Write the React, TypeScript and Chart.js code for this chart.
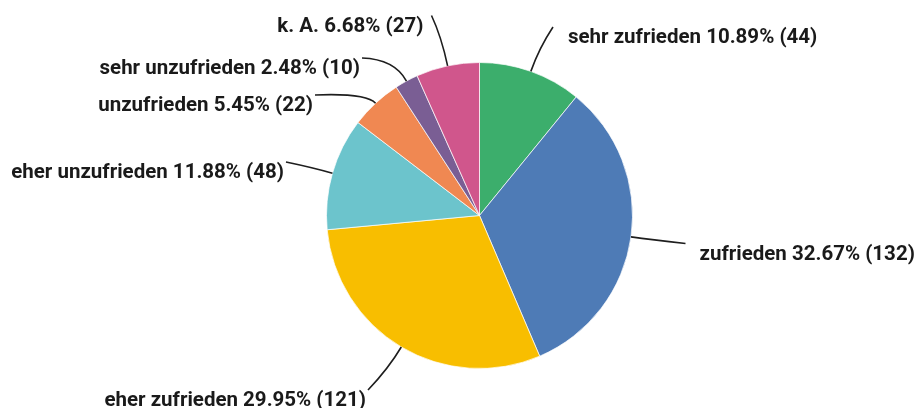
import React, { useEffect, useRef } from "react";
import { Chart, registerables } from "chart.js";

Chart.register(...registerables);

const categories = [
  "sehr zufrieden",
  "zufrieden",
  "eher zufrieden",
  "eher unzufrieden",
  "unzufrieden",
  "sehr unzufrieden",
  "k. A.",
];
const counts = [44, 132, 121, 48, 22, 10, 27];
const colors = ["#3cae6c", "#4e7bb6", "#f8be00", "#6cc4cc", "#f08852", "#7a5e94", "#d0568c"];

// label layout: leader end offset from pie centre, control-point extension beyond radius, text gap
const leaderEnds = [
  [73.5, -188.5],
  [206, 28],
  [-111.5, 174.5],
  [-193.5, -53.5],
  [-164.5, -120.5],
  [-117.5, -157.5],
  [-48, -200],
];
const ctrlExt = [25, 20, 25, 20, 14, 25, 30];
const textGap = [15, 14, 2, 2, 2, 2, 8];

const total = counts.reduce((a, b) => a + b, 0);
const labelTexts = categories.map(
  (c, i) => `${c} ${((counts[i] / total) * 100).toFixed(2)}% (${counts[i]})`
);

const leaderPlugin = {
  id: "leaders",
  afterDatasetsDraw(chart: any) {
    const ctx = chart.ctx;
    const meta = chart.getDatasetMeta(0);
    ctx.save();
    meta.data.forEach((arc: any, i: number) => {
      const { x, y, startAngle, endAngle, outerRadius } = arc.getProps(
        ["x", "y", "startAngle", "endAngle", "outerRadius"],
        true
      );
      const a = (startAngle + endAngle) / 2;
      const r = outerRadius;
      const p0x = x + r * Math.cos(a);
      const p0y = y + r * Math.sin(a);
      const cx = x + (r + ctrlExt[i]) * Math.cos(a);
      const cy = y + (r + ctrlExt[i]) * Math.sin(a);
      const ex = x + leaderEnds[i][0];
      const ey = y + leaderEnds[i][1];
      ctx.beginPath();
      ctx.moveTo(p0x, p0y);
      ctx.quadraticCurveTo(cx, cy, ex, ey);
      ctx.strokeStyle = "#1e1e1e";
      ctx.lineWidth = 1.6;
      ctx.stroke();
      ctx.fillStyle = "#1a1a1a";
      ctx.font = "bold 20.5px Roboto, 'Noto Sans', sans-serif";
      ctx.textBaseline = "alphabetic";
      const left = leaderEnds[i][0] < 0;
      ctx.textAlign = left ? "right" : "left";
      ctx.fillText(labelTexts[i], left ? ex - textGap[i] : ex + textGap[i], ey + 16);
    });
    ctx.restore();
  },
};

export default function App() {
  const ref = useRef<HTMLCanvasElement>(null);
  useEffect(() => {
    document.body.style.margin = "0";
    const chart = new Chart(ref.current as HTMLCanvasElement, {
      type: "pie",
      data: {
        labels: categories,
        datasets: [
          {
            data: counts,
            backgroundColor: colors,
            borderColor: "rgba(255,255,255,0.7)",
            borderWidth: 1,
          },
        ],
      },
      options: {
        responsive: false,
        animation: false,
        layout: { padding: { left: 326, right: 282, top: 62, bottom: 39 } },
        plugins: { legend: { display: false }, tooltip: { enabled: false } },
      },
      plugins: [leaderPlugin],
    });
    return () => chart.destroy();
  }, []);
  return (
    <div style={{ position: "absolute", left: 0, top: 0, width: 915, height: 408, background: "#fff" }}>
      <canvas ref={ref} width={915} height={408} />
    </div>
  );
}
